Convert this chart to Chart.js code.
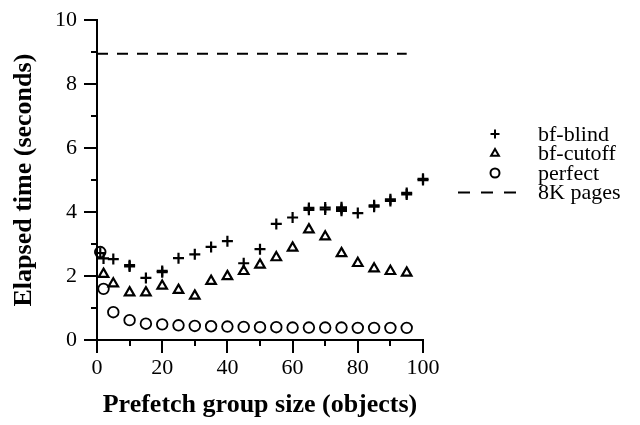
<!DOCTYPE html>
<html>
<head>
<meta charset="utf-8">
<script src="https://cdn.jsdelivr.net/npm/chart.js@4/dist/chart.umd.min.js"></script>
<style>
  html, body { margin: 0; padding: 0; background: #fff; }
  #wrap { width: 640px; height: 425px; }
</style>
</head>
<body>
<div id="wrap"><canvas id="chart" width="640" height="425"></canvas></div>
<script>
// Data
const blindX = [1, 2, 5, 10, 10, 15, 20, 20, 25, 30, 35, 40, 45, 50, 55, 60, 65, 65, 70, 70, 75, 75, 75, 80, 85, 85, 90, 90, 95, 95, 100, 100];
const blindY = [2.72, 2.55, 2.53, 2.30, 2.34, 1.94, 2.12, 2.16, 2.56, 2.68, 2.91, 3.09, 2.40, 2.84, 3.63, 3.83, 4.07, 4.13, 4.08, 4.14, 4.04, 4.10, 4.15, 3.97, 4.17, 4.21, 4.35, 4.40, 4.55, 4.60, 5.00, 5.04];

const cutoffX = [2, 5, 10, 15, 20, 25, 30, 35, 40, 45, 50, 55, 60, 65, 70, 75, 80, 85, 90, 95];
const cutoffY = [2.06, 1.76, 1.48, 1.48, 1.69, 1.56, 1.38, 1.84, 1.99, 2.15, 2.35, 2.58, 2.88, 3.45, 3.23, 2.71, 2.40, 2.23, 2.15, 2.10];

const perfectX = [1, 2, 5, 10, 15, 20, 25, 30, 35, 40, 45, 50, 55, 60, 65, 70, 75, 80, 85, 90, 95];
const perfectY = [2.75, 1.60, 0.87, 0.62, 0.51, 0.49, 0.46, 0.44, 0.43, 0.42, 0.41, 0.40, 0.40, 0.39, 0.39, 0.39, 0.39, 0.38, 0.38, 0.38, 0.38];

const pagesX = [0, 95];
const pagesY = [8.95, 8.95];

const seriesNames = ["bf-blind", "bf-cutoff", "perfect", "8K pages"];
const xTitle = "Prefetch group size (objects)";
const yTitle = "Elapsed time (seconds)";

function toPoints(xs, ys) {
  return xs.map((x, i) => ({ x: x, y: ys[i] }));
}

const serif = "'Liberation Serif', 'DejaVu Serif', serif";

// minor ticks (odd seconds, every 10 objects on x)
const minorTicks = {
  id: "minorTicks",
  afterDraw(chart) {
    const ctx = chart.ctx;
    const xs = chart.scales.x, ys = chart.scales.y;
    const area = chart.chartArea;
    ctx.save();
    ctx.strokeStyle = "#000";
    ctx.lineWidth = 2;
    ctx.beginPath();
    for (let v = 1; v < 10; v += 2) {
      const py = Math.round(ys.getPixelForValue(v));
      ctx.moveTo(area.left - 6, py);
      ctx.lineTo(area.left, py);
    }
    for (let v = 10; v < 100; v += 20) {
      const px = Math.round(xs.getPixelForValue(v));
      ctx.moveTo(px, area.bottom);
      ctx.lineTo(px, area.bottom + 6);
    }
    ctx.stroke();
    ctx.restore();
  }
};

// legend drawn at the right of the plot
const sideLegend = {
  id: "sideLegend",
  afterDraw(chart) {
    const ctx = chart.ctx;
    const markX = 495, textX = 538, top = 134, step = 19.5;
    ctx.save();
    ctx.font = "22px " + serif;
    ctx.textBaseline = "middle";
    chart.data.datasets.forEach((ds, i) => {
      const y = top + i * step;
      ctx.strokeStyle = "#000";
      ctx.lineWidth = 2;
      if (ds.showLine) {
        ctx.setLineDash([12, 11]);
        ctx.beginPath();
        ctx.moveTo(458, y);
        ctx.lineTo(517, y);
        ctx.stroke();
        ctx.setLineDash([]);
      } else {
        ctx.fillStyle = "#fff";
        Chart.helpers.drawPoint(ctx, {
          pointStyle: ds.pointStyle,
          radius: 4.5,
          borderWidth: 2,
          rotation: 0
        }, markX, y);
      }
      ctx.fillStyle = "#000";
      ctx.fillText(ds.label, textX, y + 1);
    });
    ctx.restore();
  }
};

const ctx = document.getElementById("chart").getContext("2d");

new Chart(ctx, {
  type: "scatter",
  data: {
    datasets: [
      {
        label: seriesNames[0],
        data: toPoints(blindX, blindY),
        pointStyle: "cross",
        pointRadius: 5.5,
        borderColor: "#000",
        backgroundColor: "#000",
        borderWidth: 2.2
      },
      {
        label: seriesNames[1],
        data: toPoints(cutoffX, cutoffY),
        pointStyle: "triangle",
        pointRadius: 5.5,
        borderColor: "#000",
        backgroundColor: "#fff",
        borderWidth: 2.2
      },
      {
        label: seriesNames[2],
        data: toPoints(perfectX, perfectY),
        pointStyle: "circle",
        pointRadius: 5.3,
        borderColor: "#000",
        backgroundColor: "rgba(255,255,255,0)",
        borderWidth: 1.8
      },
      {
        label: seriesNames[3],
        data: toPoints(pagesX, pagesY),
        showLine: true,
        pointRadius: 0,
        borderColor: "#000",
        borderWidth: 2,
        borderDash: [11, 9]
      }
    ]
  },
  options: {
    responsive: false,
    animation: false,
    events: [],
    clip: false,
    layout: {
      padding: { left: 0, top: 14, right: 217, bottom: 0 }
    },
    plugins: {
      legend: { display: false },
      tooltip: { enabled: false }
    },
    scales: {
      x: {
        type: "linear",
        min: 0,
        max: 100,
        afterFit: scale => { scale.height = 85; },
        ticks: {
          stepSize: 20,
          color: "#000",
          padding: 2,
          maxRotation: 0,
          font: { family: serif, size: 22 }
        },
        grid: {
          drawOnChartArea: false,
          drawTicks: true,
          tickLength: 13,
          color: "#000",
          lineWidth: 2
        },
        border: { display: true, color: "#000", width: 2 },
        title: {
          display: true,
          text: xTitle,
          color: "#000",
          padding: { top: 0, bottom: 4 },
          font: { family: serif, size: 26, weight: "bold" }
        }
      },
      y: {
        type: "linear",
        min: 0,
        max: 10,
        afterFit: scale => { scale.width = 97; },
        ticks: {
          stepSize: 2,
          color: "#000",
          padding: 7,
          font: { family: serif, size: 22 }
        },
        grid: {
          drawOnChartArea: false,
          drawTicks: true,
          tickLength: 13,
          color: "#000",
          lineWidth: 2
        },
        border: { display: true, color: "#000", width: 2 },
        title: {
          display: true,
          text: yTitle,
          color: "#000",
          padding: { top: 9, bottom: 0 },
          font: { family: serif, size: 26, weight: "bold" }
        }
      }
    }
  },
  plugins: [minorTicks, sideLegend]
});
</script>
</body>
</html>
